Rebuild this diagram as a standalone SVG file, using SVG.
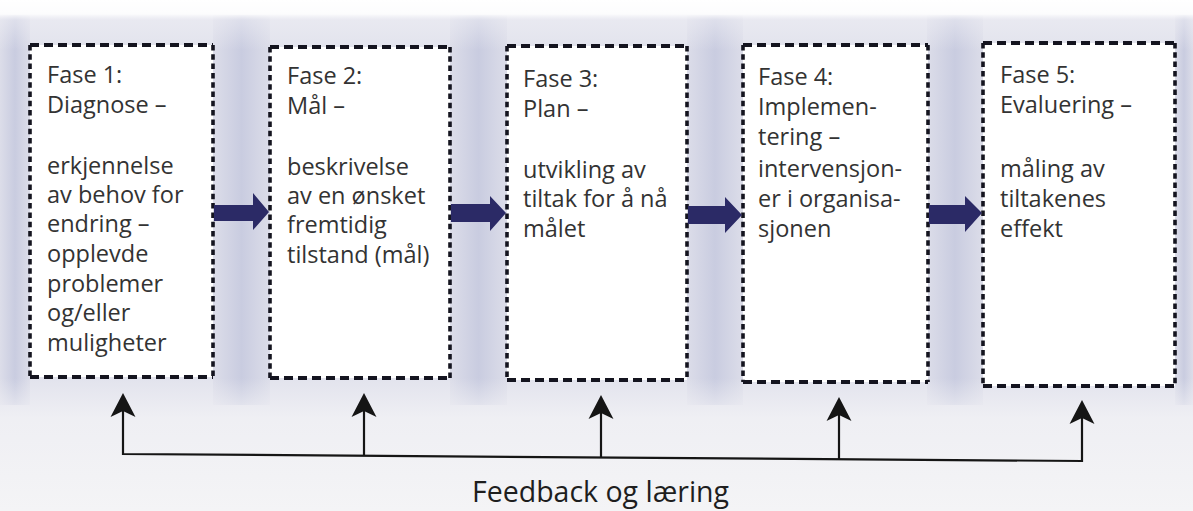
<svg xmlns="http://www.w3.org/2000/svg" width="1193" height="511" viewBox="0 0 1193 511">
  <defs>
    <linearGradient id="gap" x1="0" y1="0" x2="1" y2="0">
      <stop offset="0" stop-color="#dcdde9"/>
      <stop offset="0.5" stop-color="#c9cce0"/>
      <stop offset="1" stop-color="#dcdde9"/>
    </linearGradient>
    <linearGradient id="topfade" x1="0" y1="0" x2="0" y2="1">
      <stop offset="0" stop-color="#ffffff" stop-opacity="1"/>
      <stop offset="0.28" stop-color="#ffffff" stop-opacity="0.9"/>
      <stop offset="0.4" stop-color="#eeeef4" stop-opacity="0.55"/>
      <stop offset="1" stop-color="#eeeef4" stop-opacity="0"/>
    </linearGradient>
    <linearGradient id="botfade" x1="0" y1="0" x2="0" y2="1">
      <stop offset="0" stop-color="#f0f0f4" stop-opacity="0"/>
      <stop offset="0.3" stop-color="#f0f0f4" stop-opacity="0.92"/>
      <stop offset="1" stop-color="#f4f4f6" stop-opacity="1"/>
    </linearGradient>
    <path id="ahead" d="M0,0 L12.5,24 L0,18 L-12.5,24 Z" fill="#151515"/>
    <style>
      .box { fill: #ffffff; stroke: none; }
      .hdash { fill: none; stroke: #14141f; stroke-width: 4; stroke-dasharray: 9 5; }
      .vdash { fill: none; stroke: #14141f; stroke-width: 3.6; stroke-dasharray: 5.5 3.8; }
      .txt { font-family: "Open Sans", "Liberation Sans", sans-serif; font-size: 23.5px; fill: #333333; }
      .fb { font-family: "Open Sans", "Liberation Sans", sans-serif; font-size: 28.5px; fill: #1e1e1e; }
      .blk { fill: #2b2a66; }
      .fline { fill: none; stroke: #151515; stroke-width: 2.2; }
    </style>
  </defs>

  <!-- background -->
  <rect x="0" y="0" width="1193" height="511" fill="#e2e3ed"/>
  <rect x="0" y="15" width="30" height="390" fill="url(#gap)"/>
  <rect x="213" y="15" width="57" height="390" fill="url(#gap)"/>
  <rect x="450" y="15" width="57" height="390" fill="url(#gap)"/>
  <rect x="687" y="15" width="56" height="390" fill="url(#gap)"/>
  <rect x="927" y="15" width="56" height="390" fill="url(#gap)"/>
  <rect x="1175" y="15" width="18" height="390" fill="url(#gap)"/>
  <rect x="0" y="0" width="1193" height="50" fill="url(#topfade)"/>
  <rect x="0" y="378" width="1193" height="133" fill="url(#botfade)"/>

  <!-- nodes -->
  <g id="fase1">
    <rect class="box" x="30" y="45" width="183" height="332"/>
    <path class="hdash" d="M30,45 H213 M30,377 H213"/>
    <path class="vdash" d="M30,45 V377 M213,45 V377"/>
    <text class="txt" x="47" y="83">Fase 1:</text>
    <text class="txt" x="47" y="113">Diagnose –</text>
    <text class="txt" x="47" y="174">erkjennelse</text>
    <text class="txt" x="47" y="203">av behov for</text>
    <text class="txt" x="47" y="232">endring –</text>
    <text class="txt" x="47" y="262">opplevde</text>
    <text class="txt" x="47" y="292">problemer</text>
    <text class="txt" x="47" y="321">og/eller</text>
    <text class="txt" x="47" y="351">muligheter</text>
  </g>

  <g id="fase2">
    <rect class="box" x="270" y="47" width="180" height="331"/>
    <path class="hdash" d="M270,47 H450 M270,378 H450"/>
    <path class="vdash" d="M270,47 V378 M450,47 V378"/>
    <text class="txt" x="287" y="84">Fase 2:</text>
    <text class="txt" x="287" y="114">Mål –</text>
    <text class="txt" x="287" y="175">beskrivelse</text>
    <text class="txt" x="287" y="204">av en ønsket</text>
    <text class="txt" x="287" y="233">fremtidig</text>
    <text class="txt" x="287" y="263">tilstand (mål)</text>
  </g>

  <g id="fase3">
    <rect class="box" x="507" y="46" width="180" height="334"/>
    <path class="hdash" d="M507,46 H687 M507,380 H687"/>
    <path class="vdash" d="M507,46 V380 M687,46 V380"/>
    <text class="txt" x="523" y="87">Fase 3:</text>
    <text class="txt" x="523" y="117">Plan –</text>
    <text class="txt" x="523" y="178">utvikling av</text>
    <text class="txt" x="523" y="207">tiltak for å nå</text>
    <text class="txt" x="523" y="237">målet</text>
  </g>

  <g id="fase4">
    <rect class="box" x="743" y="45" width="185" height="337"/>
    <path class="hdash" d="M743,45 H928 M743,382 H928"/>
    <path class="vdash" d="M743,45 V382 M928,45 V382"/>
    <text class="txt" x="758" y="85">Fase 4:</text>
    <text class="txt" x="758" y="115">Implemen-</text>
    <text class="txt" x="758" y="145">tering –</text>
    <text class="txt" x="758" y="177">intervensjon-</text>
    <text class="txt" x="758" y="207">er i organisa-</text>
    <text class="txt" x="758" y="237">sjonen</text>
  </g>

  <g id="fase5">
    <rect class="box" x="983" y="43" width="192" height="343"/>
    <path class="hdash" d="M983,43 H1175 M983,386 H1175"/>
    <path class="vdash" d="M983,43 V386 M1175,43 V386"/>
    <text class="txt" x="1000" y="83">Fase 5:</text>
    <text class="txt" x="1000" y="113">Evaluering –</text>
    <text class="txt" x="1000" y="177">måling av</text>
    <text class="txt" x="1000" y="207">tiltakenes</text>
    <text class="txt" x="1000" y="237">effekt</text>
  </g>

  <!-- connectors -->
  <g id="connectors">
    <polygon class="blk" points="214,205 253,205 253,193 269,212 253,230 253,221 214,221"/>
    <polygon class="blk" points="451,204 490,204 490,196 506,213 490,231 490,222 451,222"/>
    <polygon class="blk" points="688,206 725,206 725,197 742,215 725,233 725,224 688,224"/>
    <polygon class="blk" points="929,205 965,205 965,196 982,213 965,232 965,224 929,224"/>

    <polyline class="fline" points="123,410 123,454 1082,461 1082,417"/>
    <line class="fline" x1="364" y1="456" x2="364" y2="410"/>
    <line class="fline" x1="601" y1="457" x2="601" y2="412"/>
    <line class="fline" x1="839" y1="459" x2="839" y2="414"/>
    <use href="#ahead" x="123" y="393"/>
    <use href="#ahead" x="364" y="393"/>
    <use href="#ahead" x="601" y="395"/>
    <use href="#ahead" x="839" y="397"/>
    <use href="#ahead" x="1082" y="400"/>
    <text class="fb" x="472" y="502">Feedback og læring</text>
  </g>
</svg>
